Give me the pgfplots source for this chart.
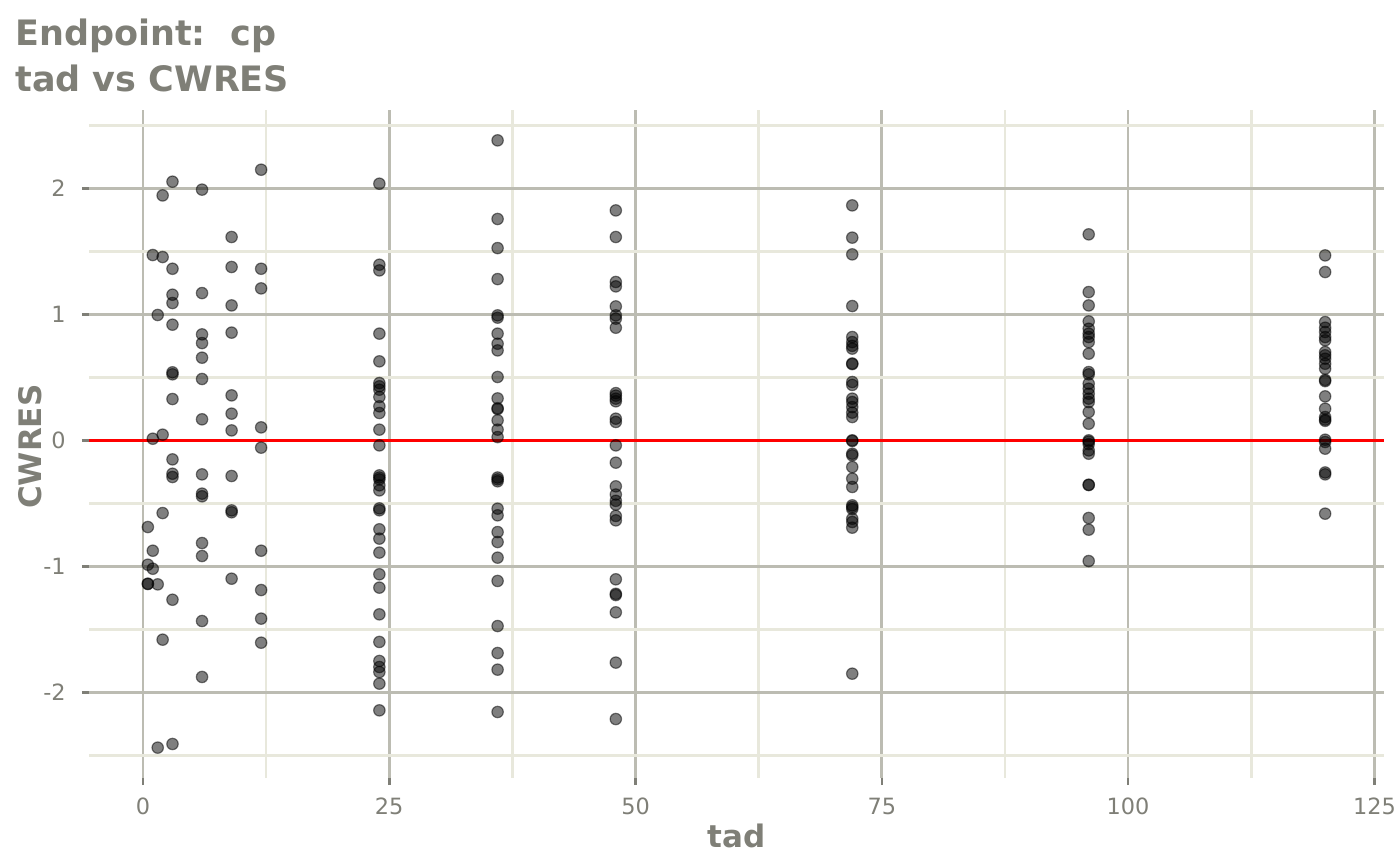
\documentclass[border=0pt]{standalone}
\usepackage{fontspec}
\setmainfont{DejaVu Sans}
\usepackage{pgfplots}
\pgfplotsset{compat=1.18}
\definecolor{txtgray}{RGB}{127,127,119}
\definecolor{gridmaj}{RGB}{188,188,178}
\definecolor{gridmin}{RGB}{232,232,220}
\begin{document}
\begin{tikzpicture}
\begin{axis}[
  scale only axis, width=647.5bp, height=334bp,
  xmin=-5.475, xmax=125.975, ymin=-2.68, ymax=2.622,
  clip=false,
  axis line style={draw=none},
  xtick={0,25,50,75,100,125}, ytick={-2,-1,0,1,2},
  minor xtick={12.5,37.5,62.5,87.5,112.5},
  minor ytick={-2.5,-1.5,-0.5,0.5,1.5,2.5},
  grid=both,
  major grid style={gridmaj, line width=1.35bp},
  minor grid style={gridmin, line width=1.3bp},
  tick align=outside, xtick pos=bottom, ytick pos=left,
  major tick length=3.5bp, minor tick length=0pt,
  tick style={txtgray, line width=1.3bp},
  /pgf/number format/assume math mode=true,
  ticklabel style={font=\fontsize{11.2bp}{13bp}\selectfont, text=txtgray, inner sep=0pt},
  xticklabel style={anchor=base, yshift=-14.85bp},
  yticklabel style={anchor=east, xshift=-8bp},
  xlabel={tad},
  xlabel style={at={(rel axis cs:0.5,-0.1037)}, anchor=base, inner sep=0pt,
    font=\fontsize{15.5bp}{18bp}\selectfont\bfseries, text=txtgray},
  ylabel={CWRES},
  ylabel style={at={(rel axis cs:-0.03653,0.496)}, anchor=base, inner sep=0pt,
    font=\fontsize{15.5bp}{18bp}\selectfont\bfseries, text=txtgray},
]
\addplot[only marks, mark=*, mark size=2.85bp,
  mark options={fill=black, fill opacity=0.5, draw=black, draw opacity=0.5, line width=0.6bp}]
  table {
x y
0.5 -0.688
0.5 -0.987
0.5 -1.138
0.5 -1.140
1 1.471
1 0.013
1 -0.876
1 -1.019
1.5 0.995
1.5 -1.143
1.5 -2.439
2 1.944
2 1.455
2 0.045
2 -0.577
2 -1.582
3 2.053
3 1.362
3 1.156
3 1.090
3 0.918
3 0.540
3 0.524
3 0.328
3 -0.151
3 -0.265
3 -0.291
3 -1.265
3 -2.410
6 1.990
6 1.169
6 0.841
6 0.772
6 0.656
6 0.487
6 0.167
6 -0.270
6 -0.423
6 -0.444
6 -0.815
6 -0.918
6 -1.434
6 -1.878
9 1.614
9 1.376
9 1.071
9 0.855
9 0.357
9 0.212
9 0.079
9 -0.283
9 -0.556
9 -0.571
9 -1.098
12 2.148
12 1.362
12 1.206
12 0.103
12 -0.058
12 -0.876
12 -1.188
12 -1.415
12 -1.606
24 2.037
24 1.394
24 1.349
24 0.847
24 0.627
24 0.455
24 0.429
24 0.402
24 0.344
24 0.270
24 0.217
24 0.085
24 -0.040
24 -0.278
24 -0.295
24 -0.310
24 -0.357
24 -0.397
24 -0.540
24 -0.555
24 -0.706
24 -0.780
24 -0.891
24 -1.063
24 -1.169
24 -1.381
24 -1.600
24 -1.751
24 -1.799
24 -1.839
24 -1.931
24 -2.143
36 2.381
36 1.757
36 1.526
36 1.280
36 0.992
36 0.974
36 0.847
36 0.767
36 0.714
36 0.503
36 0.333
36 0.255
36 0.248
36 0.159
36 0.085
36 0.026
36 -0.295
36 -0.310
36 -0.325
36 -0.542
36 -0.595
36 -0.728
36 -0.807
36 -0.931
36 -1.116
36 -1.474
36 -1.688
36 -1.820
36 -2.156
48 1.825
48 1.614
48 1.257
48 1.222
48 1.063
48 0.992
48 0.966
48 0.894
48 0.375
48 0.355
48 0.331
48 0.310
48 0.172
48 0.146
48 -0.040
48 -0.177
48 -0.365
48 -0.430
48 -0.480
48 -0.510
48 -0.600
48 -0.635
48 -1.103
48 -1.218
48 -1.228
48 -1.365
48 -1.764
48 -2.212
72 1.865
72 1.609
72 1.476
72 1.066
72 0.820
72 0.780
72 0.750
72 0.728
72 0.610
72 0.605
72 0.463
72 0.440
72 0.331
72 0.304
72 0.264
72 0.220
72 0.185
72 0.000
72 -0.005
72 -0.106
72 -0.119
72 -0.212
72 -0.304
72 -0.370
72 -0.516
72 -0.530
72 -0.545
72 -0.622
72 -0.648
72 -0.693
72 -1.852
96 1.635
96 1.177
96 1.071
96 0.944
96 0.886
96 0.847
96 0.820
96 0.780
96 0.688
96 0.542
96 0.524
96 0.450
96 0.410
96 0.370
96 0.331
96 0.304
96 0.225
96 0.132
96 0.000
96 -0.010
96 -0.030
96 -0.080
96 -0.106
96 -0.352
96 -0.355
96 -0.616
96 -0.709
96 -0.958
120 1.468
120 1.336
120 0.939
120 0.894
120 0.860
120 0.820
120 0.794
120 0.701
120 0.675
120 0.648
120 0.608
120 0.569
120 0.480
120 0.470
120 0.349
120 0.251
120 0.185
120 0.165
120 0.155
120 0.005
120 -0.013
120 -0.066
120 -0.255
120 -0.270
120 -0.582
};
\addplot[red, line width=1.25bp] coordinates {(-5.475,0) (125.975,0)};
\node[anchor=base west, inner sep=0pt, text=txtgray,
  font=\fontsize{17.5bp}{20bp}\selectfont\bfseries]
  at (rel axis cs:-0.0572,1.0973) {Endpoint:\ \ cp};
\node[anchor=base west, inner sep=0pt, text=txtgray,
  font=\fontsize{17.5bp}{20bp}\selectfont\bfseries]
  at (rel axis cs:-0.0572,1.0274) {tad vs CWRES};
\coordinate (bbsw) at (rel axis cs:-0.068726,-0.130240);
\coordinate (bbne) at (rel axis cs:1.012355,1.164671);
\end{axis}
\pgfresetboundingbox
\path[use as bounding box] (bbsw) rectangle (bbne);
\end{tikzpicture}
\end{document}
